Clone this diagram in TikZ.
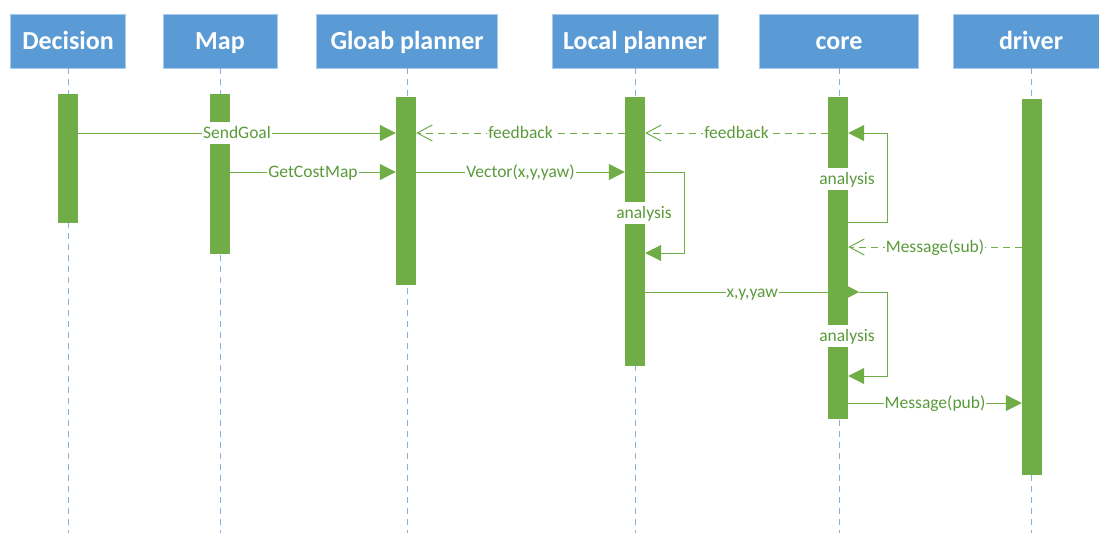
\documentclass[tikz,border=0pt]{standalone}
\usepackage{fontspec}
\setmainfont{Carlito}
\usetikzlibrary{arrows.meta}
\definecolor{headblue}{HTML}{5B9BD5}
\definecolor{edgeblue}{HTML}{A9CBEB}
\definecolor{lifeblue}{HTML}{7FB0E0}
\definecolor{bargreen}{HTML}{70AD47}
\definecolor{txtgreen}{HTML}{5A9A3A}

\begin{document}
\begin{tikzpicture}[x=1pt,y=-1pt,
  head/.style={fill=headblue, draw=edgeblue, line width=0.8pt, text=white,
    font=\fontsize{26}{30}\selectfont\bfseries, minimum height=54pt,
    inner sep=0pt, text height=17pt, text depth=0pt},
  bar/.style={fill=bargreen, minimum width=20pt, inner sep=0pt, anchor=north},
  life/.style={lifeblue, line width=1pt, dash pattern=on 6pt off 5pt},
  msg/.style={bargreen, line width=1pt, -{Triangle[length=16pt,width=16pt]}},
  reply/.style={bargreen, line width=1pt, dash pattern=on 7pt off 5pt,
    -{Straight Barb[length=15pt,width=16pt,line width=1pt]}},
  lbl/.style={fill=white, text=txtgreen, font=\fontsize{17.5}{20}\selectfont,
    inner xsep=1pt, inner ysep=0pt, minimum height=22pt,
    text height=14pt, text depth=3pt}]
\useasboundingbox (0,0) rectangle (1099,533);
% the heads
\node[head, minimum width=115pt] (dec)  at (68,41)    {Decision};
\node[head, minimum width=114pt] (map)  at (220,41)   {Map};
\node[head, minimum width=181pt] (gp)   at (407,41)   {Gloab planner};
\node[head, minimum width=166pt] (lp)   at (635,41)   {Local planner};
\node[head, minimum width=159pt] (core) at (839,41)   {core};
\node[head, minimum width=156pt] (drv)  at (1031,41)  {driver};
% drawing the lifelines
\coordinate (bottom) at (0,533);
\foreach \n in {dec,map,gp,lp,core,drv}
  \draw[life] (\n.south) -- (\n.south |- bottom);
% end of lifelines
% the bars
\node[bar, minimum height=129pt] (decbar)  at (68,94)   {};
\node[bar, minimum height=160pt] (mapbar)  at (220,94)  {};
\node[bar, minimum height=188pt] (gpbar)   at (406,97)  {};
\node[bar, minimum height=269pt] (lpbar)   at (635,97)  {};
\node[bar, minimum height=322pt] (corebar) at (838,97)  {};
\node[bar, minimum height=376pt] (drvbar)  at (1032,99) {};
% rows of the messages
\coordinate (r1) at (0,133);
\coordinate (r2) at (0,172);
\coordinate (r3) at (0,222);
\coordinate (r4) at (0,247);
\coordinate (r5) at (0,253);
\coordinate (r6) at (0,292);
\coordinate (r7) at (0,376);
\coordinate (r8) at (0,403);
% messages
\draw[msg] (decbar.east |- r1) -- node[lbl] {SendGoal} (gpbar.west |- r1);
\draw[msg] (mapbar.east |- r2) -- node[lbl] {GetCostMap} (gpbar.west |- r2);
\draw[reply] (lpbar.west |- r1) -- node[lbl] {feedback} (gpbar.east |- r1);
\draw[reply] (corebar.west |- r1) -- node[lbl] {feedback} (lpbar.east |- r1);
\draw[msg] (gpbar.east |- r2) -- node[lbl] {Vector(x,y,yaw)} (lpbar.west |- r2);
\draw[reply] (drvbar.west |- r4) -- node[lbl] {Message(sub)} (corebar.east |- r4);
\draw[msg] (lpbar.east |- r6) -- node[lbl] {x,y,yaw} ([xshift=11pt]corebar.east |- r6);
\draw[msg] (corebar.east |- r8) -- node[lbl] {Message(pub)} (drvbar.west |- r8);
% self loops
\draw[msg] (lpbar.east |- r2) -- ++(39,0) |- (lpbar.east |- r5);
\draw[msg] (corebar.east |- r3) -- ++(39,0) |- (corebar.east |- r1);
\draw[msg] ([xshift=11pt]corebar.east |- r6) -- ++(28,0) |- (corebar.east |- r7);
\node[lbl] (lpan)  at (644,213) {analysis};
\node[lbl] (coan1) at (847,179) {analysis};
\node[lbl] (coan2) at (847,336) {analysis};
\end{tikzpicture}
\end{document}
